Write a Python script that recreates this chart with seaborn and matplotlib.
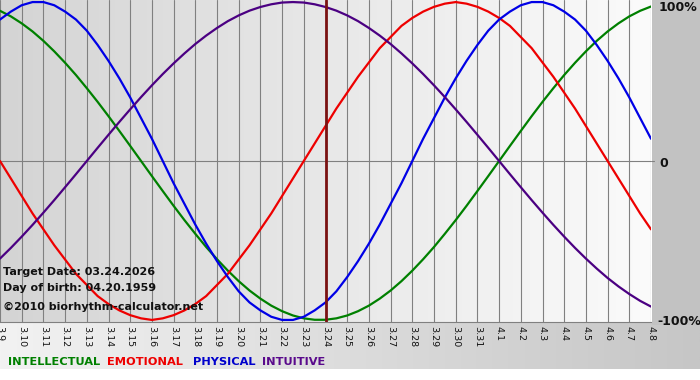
import numpy as np
import pandas as pd
import matplotlib
matplotlib.use("Agg")
import matplotlib.pyplot as plt
import seaborn as sns

day_labels = ["3.9", "3.10", "3.11", "3.12", "3.13", "3.14", "3.15", "3.16", "3.17", "3.18",
              "3.19", "3.20", "3.21", "3.22", "3.23", "3.24", "3.25", "3.26", "3.27", "3.28",
              "3.29", "3.30", "3.31", "4.1", "4.2", "4.3", "4.4", "4.5", "4.6", "4.7", "4.8"]
physical = [0.89, 0.94, 0.98, 1.00, 1.00, 0.98, 0.94, 0.89, 0.82, 0.73,
            0.63, 0.52, 0.40, 0.27, 0.14, 0.00, -0.14, -0.27, -0.40, -0.52,
            -0.63, -0.73, -0.82, -0.89, -0.94, -0.98, -1.00, -1.00, -0.98, -0.94,
            -0.89, -0.82, -0.73, -0.63, -0.52, -0.40, -0.27, -0.14, 0.00, 0.14,
            0.27, 0.40, 0.52, 0.63, 0.73, 0.82, 0.89, 0.94, 0.98, 1.00,
            1.00, 0.98, 0.94, 0.89, 0.82, 0.73, 0.63, 0.52, 0.40, 0.27, 0.14]
emotional = [0.00, -0.11, -0.22, -0.33, -0.43, -0.53, -0.62, -0.71, -0.78, -0.85,
             -0.90, -0.94, -0.97, -0.99, -1.00, -0.99, -0.97, -0.94, -0.90, -0.85,
             -0.78, -0.71, -0.62, -0.53, -0.43, -0.33, -0.22, -0.11, 0.00, 0.11,
             0.22, 0.33, 0.43, 0.53, 0.62, 0.71, 0.78, 0.85, 0.90, 0.94,
             0.97, 0.99, 1.00, 0.99, 0.97, 0.94, 0.90, 0.85, 0.78, 0.71,
             0.62, 0.53, 0.43, 0.33, 0.22, 0.11, 0.00, -0.11, -0.22, -0.33, -0.43]
intellectual = [0.945, 0.910, 0.866, 0.815, 0.756, 0.690, 0.618, 0.541, 0.458, 0.372,
                0.282, 0.189, 0.095, 0.000, -0.095, -0.189, -0.282, -0.372, -0.458, -0.541,
                -0.618, -0.690, -0.756, -0.815, -0.866, -0.910, -0.945, -0.972, -0.990, -0.999,
                -0.999, -0.990, -0.972, -0.945, -0.910, -0.866, -0.815, -0.756, -0.690, -0.618,
                -0.541, -0.458, -0.372, -0.282, -0.189, -0.095, 0.000, 0.095, 0.189, 0.282,
                0.372, 0.458, 0.541, 0.618, 0.690, 0.756, 0.815, 0.866, 0.910, 0.945, 0.972]
intuitive = [-0.614, -0.547, -0.476, -0.402, -0.325, -0.246, -0.165, -0.083, 0.000, 0.083,
             0.165, 0.246, 0.325, 0.402, 0.476, 0.547, 0.614, 0.677, 0.736, 0.789,
             0.837, 0.880, 0.916, 0.946, 0.969, 0.986, 0.997, 1.000, 0.997, 0.986,
             0.969, 0.946, 0.916, 0.880, 0.837, 0.789, 0.736, 0.677, 0.614, 0.547,
             0.476, 0.402, 0.325, 0.246, 0.165, 0.083, 0.000, -0.083, -0.165, -0.246,
             -0.325, -0.402, -0.476, -0.547, -0.614, -0.677, -0.736, -0.789, -0.837, -0.880, -0.916]
series_names = ["INTELLECTUAL", "EMOTIONAL", "PHYSICAL", "INTUITIVE"]
series_colors = ["#008000", "#ee0000", "#0000e6", "#4b0082"]
legend_colors = ["#008000", "#ee0000", "#0000cc", "#5a0a8c"]
target_label = "3.24"
info_lines = ["Target Date: 03.24.2026", "Day of birth: 04.20.1959", "\u00a92010 biorhythm-calculator.net"]
pct_labels = ["100%", "0", "-100%"]

rows = []
for name, vals in zip(series_names, [intellectual, emotional, physical, intuitive]):
    steps = (len(vals) - 1) / (len(day_labels) - 1)
    for i, v in enumerate(vals):
        rows.append({"day": i / steps, "value": v, "series": name})
df = pd.DataFrame(rows)

sns.set_style("white")
plt.rcParams["font.family"] = ["DejaVu Sans"]

W, H = 700, 380
fig = plt.figure(figsize=(W / 100, H / 100), dpi=100)
fig.patch.set_facecolor("white")

# background panel (pixel coords)
bg = fig.add_axes([0, 0, 1, 1], zorder=0)
bg.axis("off")
grad = np.linspace(0, 1, 256)[None, :]
bg.imshow(grad, extent=[0, W, 369, 322], aspect="auto",
          cmap=matplotlib.colors.LinearSegmentedColormap.from_list("g1", ["#f2f2f2", "#c6c6c6"]),
          zorder=0)
bg.add_patch(plt.Rectangle((652, 0), 48, 325, color="#c2c2c2", zorder=1, lw=0))
bg.set_xlim(0, W)
bg.set_ylim(H, 0)

# main plot
ax = fig.add_axes([0, 58 / H, 651 / W, 322 / H], zorder=2)
n = len(day_labels)
ymax = 1.013
ax.imshow(grad, extent=[0, n - 1, -ymax, ymax], aspect="auto",
          cmap=matplotlib.colors.LinearSegmentedColormap.from_list("g2", ["#d4d4d4", "#e8e8e8", "#fbfbfb"]),
          zorder=0)
for i in range(n):
    ax.axvline(i, color="#808080", lw=0.8, zorder=1)
ax.axhline(0, color="#808080", lw=0.8, zorder=1)

sns.lineplot(data=df, x="day", y="value", hue="series", hue_order=series_names,
             palette=dict(zip(series_names, series_colors)), lw=1.6, legend=False,
             ax=ax, zorder=3)

tx = day_labels.index(target_label)
ax.axvline(tx, color="#7a1212", lw=2.0, zorder=4)

ax.set_xlim(0, n - 1)
ax.set_ylim(-ymax, ymax)
ax.set_xticks(range(n))
ax.set_xticklabels(day_labels, rotation=-90, fontsize=6.8, color="#111111")
ax.tick_params(axis="x", length=0, pad=3, bottom=True)
ax.set_yticks([])
ax.set_xlabel("")
ax.set_ylabel("")
for s in ["left", "right", "top"]:
    ax.spines[s].set_visible(False)
ax.spines["bottom"].set_color("#808080")
ax.spines["bottom"].set_linewidth(0.8)

# right percent labels
ytr = ax.get_yaxis_transform()
for lab, yv, dx in zip(pct_labels, [0.965, -0.015, -1.012], [8, 8, 6]):
    ax.text(1.0 + dx / 651, yv, lab, transform=ytr, ha="left", va="center",
            fontsize=9, fontweight="bold", color="#111111", clip_on=False)
ax.plot([n - 1, n - 1 + 0.15], [0, 0], color="#808080", lw=0.8, clip_on=False, zorder=1)

# info texts
for txt, yp in zip(info_lines, [272, 288, 307]):
    fig.text(3 / W, 1 - yp / H, txt, ha="left", va="center", fontsize=8.0,
             fontweight="bold", color="#111111", zorder=10)

# legend texts
xs = [8, 107, 193, 262]
for name, col, xp in zip(series_names, legend_colors, xs):
    fig.text(xp / W, 1 - 362 / H, name, ha="left", va="center", fontsize=8.2,
             fontweight="bold", color=col, zorder=10)

fig.savefig("out.png", dpi=100, facecolor="white")
